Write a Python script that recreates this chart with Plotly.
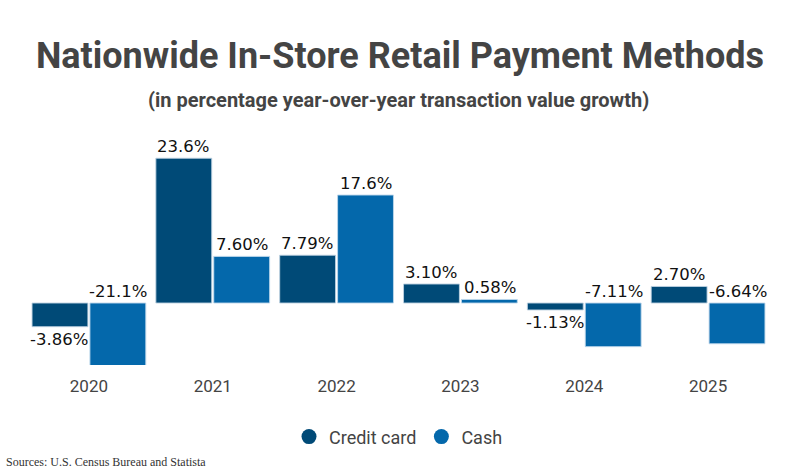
import plotly.graph_objects as go

years = ["2020", "2021", "2022", "2023", "2024", "2025"]
credit_card = [-3.86, 23.6, 7.79, 3.10, -1.13, 2.70]
cash = [-21.1, 7.60, 17.6, 0.58, -7.11, -6.64]

series = [
    ("Credit card", credit_card, "#004a77", "rgba(190,210,225,0.9)", -29.5),
    ("Cash", cash, "#0468ab", "rgba(190,215,235,0.9)", 29.5),
]

Y_MIN, Y_MAX = -10.1, 28.2
LABEL_UNITS = 3.5


def fmt(v):
    d = 2 if abs(v) < 10 else 1
    return f"{v:.{d}f}%"


fig = go.Figure()
annotations = []
for name, vals, color, line_color, shift in series:
    fig.add_trace(go.Bar(
        x=years, y=vals, name=name, showlegend=False,
        marker=dict(color=color, line=dict(color=line_color, width=1)),
        hoverinfo="skip",
    ))
    fig.add_trace(go.Scatter(
        x=[years[0]], y=[None], mode="markers", name=name,
        marker=dict(color=color, size=15, symbol="circle"),
        hoverinfo="skip",
    ))
    for i, v in enumerate(vals):
        if v >= 0:
            y, anchor, ys = v, "bottom", 0
        elif v - LABEL_UNITS > Y_MIN:
            y, anchor, ys = v, "top", -1
        else:
            y, anchor, ys = 0, "bottom", 0
        annotations.append(dict(
            x=i, y=y, xref="x", yref="y", text=fmt(v), showarrow=False,
            xshift=shift, yshift=ys, yanchor=anchor, xanchor="center",
            font=dict(family="DejaVu Sans", size=16.5, color="#111111"),
        ))

annotations.append(dict(
    text="(in percentage year-over-year transaction value growth)",
    xref="paper", yref="paper", x=0.5, y=1.128, xanchor="center", yanchor="middle",
    showarrow=False, font=dict(family="Roboto", size=20, color="#444444", weight="bold"),
))
annotations.append(dict(
    text="Sources: U.S. Census Bureau and Statista",
    xref="paper", yref="paper", x=-0.031, y=-0.413, xanchor="left", yanchor="middle",
    showarrow=False, font=dict(family="Liberation Serif", size=12, color="#333333"),
))

fig.update_layout(
    width=800, height=475,
    margin=dict(l=27, r=30, t=130, b=110),
    paper_bgcolor="white", plot_bgcolor="white",
    barmode="group", bargap=0.065, bargroupgap=0.035,
    title=dict(
        text="<b>Nationwide In-Store Retail Payment Methods</b>",
        x=0.5, xanchor="center", y=1 - 55 / 475, yanchor="middle",
        font=dict(family="Roboto", size=36, color="#444444"),
    ),
    xaxis=dict(
        type="category", range=[-0.5, len(years) - 0.5],
        showgrid=False, zeroline=False, showline=False, ticks="",
        ticklabelstandoff=9,
        tickfont=dict(family="Roboto", size=17, color="#444444"),
    ),
    yaxis=dict(
        range=[Y_MIN, Y_MAX], visible=False, showgrid=False, zeroline=False,
    ),
    legend=dict(
        orientation="h", x=0.5, xanchor="center", y=-0.306, yanchor="middle",
        font=dict(family="Roboto", size=18, color="#444444"),
        itemsizing="trace", itemwidth=30, tracegroupgap=0,
    ),
    annotations=annotations,
)

fig.write_html("out.html")
